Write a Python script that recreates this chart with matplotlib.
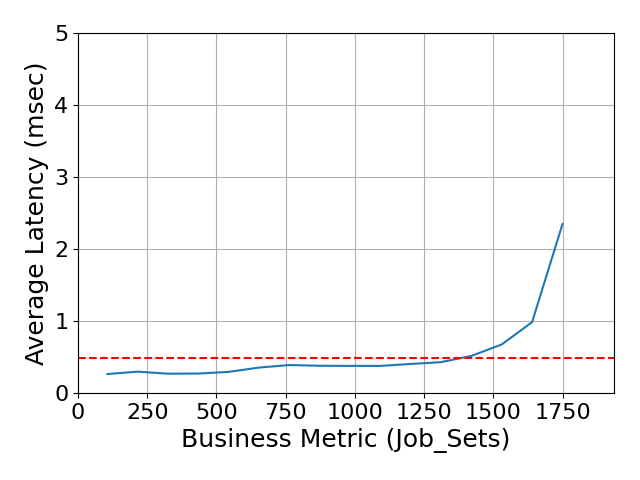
import matplotlib
matplotlib.use('Agg')
import matplotlib.pyplot as plt

# Business metric (job sets) vs. average latency in msec
job_sets = [106, 216, 325, 435, 544, 654, 763, 873, 982, 1092, 1201, 1311, 1420, 1530, 1640, 1750]
latency  = [0.265, 0.298, 0.27, 0.272, 0.295, 0.355, 0.39, 0.38, 0.378, 0.378, 0.405, 0.43, 0.516, 0.675, 0.986, 2.35]
SLA      = 0.49

fig, ax = plt.subplots(figsize=(6.4, 4.8), dpi=100)
ax.plot(job_sets, latency, color='tab:blue', linewidth=1.5)
ax.axhline(SLA, color='red', linestyle='--', linewidth=1.5)

ax.set_xlim(0, 1935)
ax.set_ylim(0, 5)
ax.set_xticks(range(0, 2000, 250))
ax.set_yticks(range(0, 6))
ax.tick_params(labelsize=16)
ax.set_xlabel('Business Metric (Job_Sets)', fontsize=18)
ax.set_ylabel('Average Latency (msec)', fontsize=18)
ax.grid(True)

plt.subplots_adjust(left=0.122, right=0.959, top=0.931, bottom=0.181)
plt.savefig('out.png')
